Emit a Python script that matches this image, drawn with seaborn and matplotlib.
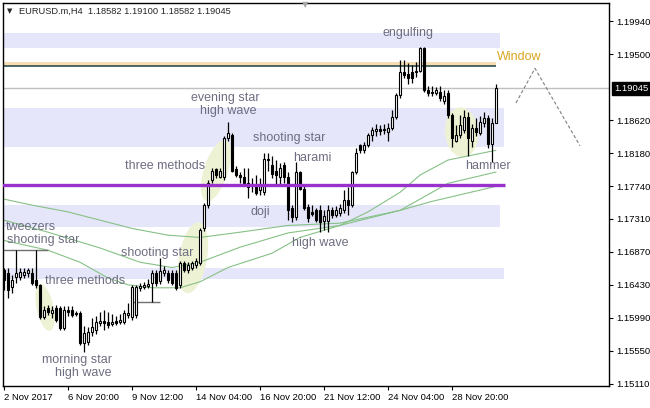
import numpy as np
import seaborn as sns
import matplotlib.pyplot as plt
from matplotlib.transforms import blended_transform_factory

sns.set_style("white")
plt.rcParams['font.family'] = ['Liberation Sans', 'DejaVu Sans']

# EURUSD H4 candles (bar 0 = 2 Nov 2017 00:00)
opens = [
    1.1663, 1.1659, 1.1640, 1.1653, 1.1653, 1.1656, 1.1659, 1.1659, 1.1649, 1.1643,
    1.1600, 1.1612, 1.1605, 1.1612, 1.1612, 1.1585, 1.1609, 1.1609, 1.1605, 1.1605,
    1.1565, 1.1567, 1.1580, 1.1583, 1.1592, 1.1595, 1.1593, 1.1591, 1.1595, 1.1593,
    1.1593, 1.1603, 1.1600, 1.1603, 1.1639, 1.1640, 1.1641, 1.1645, 1.1659, 1.1648,
    1.1659, 1.1659, 1.1659, 1.1659, 1.1643, 1.1672, 1.1663, 1.1666, 1.1669, 1.1672,
    1.1718, 1.1749, 1.1782, 1.1797, 1.1787, 1.1786, 1.1838, 1.1842, 1.1797, 1.1789,
    1.1786, 1.1779, 1.1777, 1.1775, 1.1769, 1.1766, 1.1809, 1.1802, 1.1795, 1.1786,
    1.1802, 1.1786, 1.1745, 1.1733, 1.1793, 1.1771, 1.1746, 1.1740, 1.1742, 1.1742,
    1.1728, 1.1728, 1.1742, 1.1736, 1.1738, 1.1742, 1.1756, 1.1749, 1.1793, 1.1829,
    1.1822, 1.1829, 1.1842, 1.1847, 1.1850, 1.1849, 1.1846, 1.1851, 1.1866, 1.1895,
    1.1926, 1.1924, 1.1926, 1.1926, 1.1928, 1.1958, 1.1902, 1.1898, 1.1898, 1.1899,
    1.1888, 1.1898, 1.1869, 1.1835, 1.1842, 1.1849, 1.1866, 1.1835, 1.1851, 1.1845,
    1.1858, 1.1865, 1.1831, 1.18582]
highs = [
    1.1666, 1.1665, 1.1656, 1.1689, 1.1666, 1.1665, 1.1665, 1.1665, 1.1689, 1.1644,
    1.1615, 1.1616, 1.1615, 1.1616, 1.1615, 1.1615, 1.1615, 1.1615, 1.1608, 1.1608,
    1.1588, 1.1587, 1.1599, 1.1601, 1.1607, 1.1609, 1.1607, 1.1604, 1.1601, 1.1604,
    1.1609, 1.1619, 1.1643, 1.1643, 1.1645, 1.1647, 1.1651, 1.1663, 1.1663, 1.1678,
    1.1668, 1.1663, 1.1663, 1.1663, 1.1674, 1.1674, 1.1673, 1.1674, 1.1678, 1.1718,
    1.1752, 1.1783, 1.1798, 1.1799, 1.1798, 1.1841, 1.1859, 1.1845, 1.1801, 1.1793,
    1.1799, 1.1798, 1.1785, 1.1789, 1.1785, 1.1819, 1.1819, 1.1814, 1.1809, 1.1805,
    1.1806, 1.1793, 1.1749, 1.1806, 1.1795, 1.1775, 1.1750, 1.1749, 1.1745, 1.1749,
    1.1742, 1.1749, 1.1746, 1.1748, 1.1750, 1.1769, 1.1773, 1.1795, 1.1825, 1.1831,
    1.1833, 1.1845, 1.1853, 1.1857, 1.1855, 1.1857, 1.1858, 1.1875, 1.1898, 1.1942,
    1.1942, 1.1938, 1.1935, 1.1939, 1.1960, 1.1960, 1.1907, 1.1907, 1.1906, 1.1907,
    1.1902, 1.1902, 1.1871, 1.1855, 1.1869, 1.1875, 1.1873, 1.1857, 1.1865, 1.1867,
    1.1873, 1.1869, 1.1865, 1.19100]
lows = [
    1.1636, 1.1625, 1.1632, 1.1645, 1.1649, 1.1652, 1.1653, 1.1643, 1.1639, 1.1597,
    1.1597, 1.1603, 1.1599, 1.1593, 1.1583, 1.1583, 1.1601, 1.1600, 1.1601, 1.1563,
    1.1554, 1.1563, 1.1575, 1.1577, 1.1588, 1.1583, 1.1585, 1.1588, 1.1589, 1.1591,
    1.1591, 1.1599, 1.1596, 1.1599, 1.1635, 1.1637, 1.1639, 1.1620, 1.1641, 1.1644,
    1.1655, 1.1645, 1.1643, 1.1636, 1.1639, 1.1660, 1.1659, 1.1663, 1.1665, 1.1669,
    1.1714, 1.1745, 1.1778, 1.1785, 1.1785, 1.1783, 1.1835, 1.1793, 1.1786, 1.1778,
    1.1774, 1.1758, 1.1766, 1.1762, 1.1762, 1.1763, 1.1795, 1.1785, 1.1775, 1.1777,
    1.1779, 1.1729, 1.1726, 1.1729, 1.1769, 1.1742, 1.1726, 1.1734, 1.1726, 1.1713,
    1.1716, 1.1713, 1.1732, 1.1733, 1.1734, 1.1738, 1.1736, 1.1746, 1.1790, 1.1818,
    1.1819, 1.1826, 1.1835, 1.1841, 1.1842, 1.1843, 1.1835, 1.1849, 1.1863, 1.1892,
    1.1918, 1.1910, 1.1912, 1.1920, 1.1926, 1.1899, 1.1894, 1.1894, 1.1895, 1.1888,
    1.1883, 1.1865, 1.1827, 1.1833, 1.1838, 1.1845, 1.1814, 1.1827, 1.1841, 1.1842,
    1.1853, 1.1825, 1.1806, 1.18582]
closes = [
    1.1649, 1.1636, 1.1649, 1.1659, 1.1660, 1.1660, 1.1663, 1.1645, 1.1643, 1.1600,
    1.1609, 1.1607, 1.1609, 1.1596, 1.1585, 1.1609, 1.1607, 1.1603, 1.1604, 1.1565,
    1.1579, 1.1580, 1.1587, 1.1593, 1.1595, 1.1592, 1.1589, 1.1593, 1.1592, 1.1596,
    1.1605, 1.1605, 1.1640, 1.1640, 1.1641, 1.1643, 1.1644, 1.1659, 1.1645, 1.1661,
    1.1663, 1.1649, 1.1645, 1.1639, 1.1672, 1.1663, 1.1669, 1.1672, 1.1674, 1.1716,
    1.1749, 1.1779, 1.1795, 1.1789, 1.1795, 1.1838, 1.1845, 1.1795, 1.1789, 1.1786,
    1.1778, 1.1773, 1.1774, 1.1765, 1.1774, 1.1811, 1.1811, 1.1791, 1.1789, 1.1799,
    1.1786, 1.1742, 1.1733, 1.1793, 1.1771, 1.1745, 1.1732, 1.1737, 1.1729, 1.1726,
    1.1734, 1.1742, 1.1736, 1.1742, 1.1745, 1.1756, 1.1749, 1.1793, 1.1819, 1.1822,
    1.1829, 1.1842, 1.1849, 1.1850, 1.1847, 1.1850, 1.1851, 1.1866, 1.1895, 1.1926,
    1.1922, 1.1918, 1.1918, 1.1928, 1.1958, 1.1902, 1.1898, 1.1900, 1.1902, 1.1891,
    1.1894, 1.1869, 1.1839, 1.1842, 1.1855, 1.1866, 1.1838, 1.1851, 1.1846, 1.1859,
    1.1865, 1.1831, 1.1858, 1.19045]

tick_bars = [0, 16, 32, 48, 64, 80, 96, 112]
tick_labels = ['2 Nov 2017', '6 Nov 20:00', '9 Nov 12:00', '14 Nov 04:00',
               '16 Nov 20:00', '21 Nov 12:00', '24 Nov 04:00', '28 Nov 20:00']
price_ticks = [1.19940, 1.19500, 1.18620, 1.18180, 1.17740, 1.17310,
               1.16870, 1.16430, 1.15990, 1.15550, 1.15110]
price_now = 1.19045

# three moving averages, read at sampled bars
ma_fast_bars = [0, 11, 19, 26, 31, 37, 44, 49, 56, 67, 74, 84, 91, 99, 104, 111, 123]
ma_fast = [1.1702, 1.1689, 1.1673, 1.1652, 1.1643, 1.1639, 1.1639, 1.1647, 1.1666,
           1.1685, 1.1706, 1.1722, 1.1740, 1.1766, 1.1789, 1.1809, 1.1822]
ma_mid_bars = [0, 11, 24, 34, 42, 49, 59, 71, 84, 99, 104, 111, 123]
ma_mid = [1.1729, 1.1713, 1.1692, 1.1673, 1.1666, 1.1673, 1.1693, 1.1712, 1.1722,
          1.1742, 1.1757, 1.1778, 1.1793]
ma_slow_bars = [0, 7, 16, 24, 32, 41, 49, 59, 71, 84, 99, 107, 123]
ma_slow = [1.1757, 1.1749, 1.1740, 1.1729, 1.1718, 1.1709, 1.1706, 1.1713, 1.1722,
           1.1725, 1.1742, 1.1754, 1.1774]

# support / resistance zones: low, high, last bar
zone_lo = [1.1958, 1.1826, 1.1720, 1.1651]
zone_hi = [1.1978, 1.1878, 1.1749, 1.1665]
zone_end = [124, 125, 124, 125]
window_lo, window_hi, window_end = 1.1934, 1.1939, 123
purple_level = 1.1776
purple_end = 125.25

# drawn tweezers/support segments: level, from bar, to bar
seg_level = [1.1689, 1.1620]
seg_from = [-0.25, 32.25]
seg_to = [11, 39]

# projected path after the last bar
proj_bars = [128, 132.75, 144]
proj_price = [1.1885, 1.1931, 1.1828]

# highlight blobs: bar, price
blob_bars = [10.25, 47.25, 53, 114.4]
blob_price = [1.1613, 1.1679, 1.1795, 1.1846]

notes = [('engulfing', 101, 1.1978, 'center'),
         ('evening star', 55.25, 1.1891, 'center'),
         ('high wave', 56, 1.1874, 'center'),
         ('shooting star', 71.25, 1.1838, 'center'),
         ('harami', 77, 1.1812, 'center'),
         ('three methods', 40.25, 1.1801, 'center'),
         ('doji', 64, 1.1740, 'center'),
         ('high wave', 79, 1.1699, 'center'),
         ('tweezers', 0.5, 1.1720, 'left'),
         ('shooting star', 0.75, 1.1702, 'left'),
         ('shooting star', 38.25, 1.1685, 'center'),
         ('three methods', 20.25, 1.1648, 'center'),
         ('morning star', 18.25, 1.1543, 'center'),
         ('high wave', 19.9, 1.1525, 'center'),
         ('hammer', 121, 1.1801, 'center')]

#%%
fig = plt.figure(figsize=(6.5, 4.08), dpi=100)
ax = fig.add_axes([3/650, 22/408, 606/650, 383/408])
ax.set_xlim(-0.25, 151.25)
ax.set_ylim(1.15083, 1.20180)

for lo, hi, end in zip(zone_lo, zone_hi, zone_end):
    ax.fill_between([-1, end], lo, hi, color='#E6E6FA', lw=0, zorder=0)
ax.fill_between([-1, window_end], window_lo, window_hi, color='#F5DEB3', lw=0, zorder=0)
ax.hlines(window_lo, -1, window_end, color='#2F4F4F', lw=1.2, zorder=1)
ax.axhline(price_now, color='#C0C0C0', lw=1, zorder=1)


def blob(bx, price, w, h, angle):
    cx, cy = ax.transData.transform((bx, price))
    t = np.linspace(0, 2 * np.pi, 90)
    a = np.deg2rad(angle)
    ex, ey = w / 2 * np.cos(t), h / 2 * np.sin(t)
    px = cx + ex * np.cos(a) - ey * np.sin(a)
    py = cy + ex * np.sin(a) + ey * np.cos(a)
    pts = ax.transData.inverted().transform(np.column_stack([px, py]))
    ax.fill(pts[:, 0], pts[:, 1], color='#EEF2D4', lw=0, zorder=1)


blob_shape = [(48, 17, -78), (72, 28, 80), (64, 24, 72), (50, 33, 95)]
for bx, bp, (w, h, ang) in zip(blob_bars, blob_price, blob_shape):
    blob(bx, bp, w, h, ang)

for x_, y_ in [(ma_fast_bars, ma_fast), (ma_mid_bars, ma_mid),
               (ma_slow_bars, ma_slow)]:
    sns.lineplot(x=x_, y=y_, ax=ax, color='#86C186', lw=0.8, zorder=2, legend=False)

ax.hlines(seg_level, seg_from, seg_to, color='#707070', lw=1, zorder=2)
ax.plot(proj_bars, proj_price, color='#808080', lw=0.8, dashes=(3, 2), zorder=2)

# candles
bars = np.arange(len(closes))
o = np.array(opens)
c = np.array(closes)
ax.vlines(bars, lows, highs, color='black', lw=0.9, zorder=3)
up = c >= o
ax.bar(bars[up], (c - o)[up], bottom=o[up], width=0.55, facecolor='white',
       edgecolor='black', lw=0.8, zorder=4)
ax.bar(bars[~up], (o - c)[~up], bottom=c[~up], width=0.55, facecolor='black',
       edgecolor='black', lw=0.8, zorder=4)

ax.hlines(purple_level, -1, purple_end, color='#9932CC', lw=2.4, zorder=5)

for txt, bx, py, ha in notes:
    ax.text(bx, py, txt, ha=ha, va='center', fontsize=9, color='#6E6E82', zorder=6)
ax.text(123.25, 1.1946, 'Window', ha='left', va='center', fontsize=9,
        color='#DAA520', zorder=6)

# axes in MetaTrader style
for s in ax.spines.values():
    s.set_color('black')
    s.set_linewidth(1)
ax.yaxis.tick_right()
ax.set_yticks(price_ticks)
ax.set_yticklabels([f'{p:.5f}' for p in price_ticks])
ax.set_xticks(tick_bars)
ax.set_xticklabels(tick_labels, ha='left')
ax.tick_params(axis='y', right=True, left=False, length=3, width=0.8, pad=2,
               labelsize=6.8, colors='black')
ax.tick_params(axis='x', bottom=True, length=3, width=0.8, pad=2,
               labelsize=6.8, colors='black')
ax.set_xlabel('')
ax.set_ylabel('')

trans = blended_transform_factory(ax.transAxes, ax.transData)
ax.text(1.0 + 5/606, price_now, f'{price_now:.5f}', transform=trans, ha='left',
        va='center', fontsize=6.8, color='white', zorder=7, clip_on=False,
        bbox=dict(boxstyle='square,pad=0.2', fc='black', ec='black'))

fig.text(10/650, 1 - 11/408, '\u25bc', fontsize=5, va='center', ha='center',
         family=['DejaVu Sans'])
fig.text(19/650, 1 - 11/408, 'EURUSD.m,H4  1.18582 1.19100 1.18582 1.19045',
         fontsize=6.7, va='center', ha='left')
fig.text(305/650, 1 - 5/408, '\u25bc', fontsize=6, va='center', ha='center',
         color='#A8A8A8', family=['DejaVu Sans'])

fig.savefig('out.png', dpi=100, facecolor='white')
